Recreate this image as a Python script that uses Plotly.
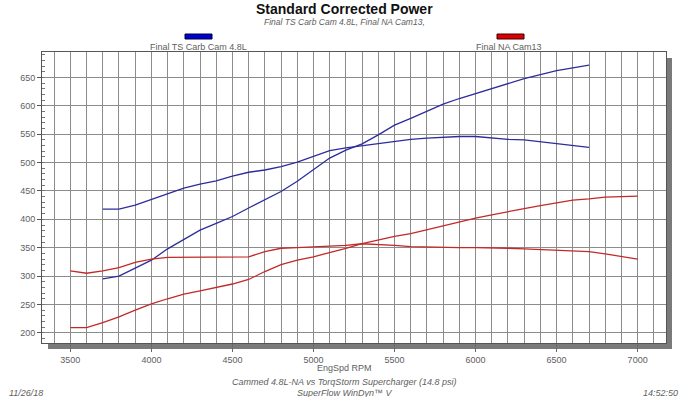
import plotly.graph_objects as go

# ---- data ----
rpm_na = list(range(3500, 7001, 100))
na_torque = [309, 305, 309, 315, 324, 330, 333, 333, 333, 333, 333, 334, 343, 349, 350, 351,
             352, 354, 357, 356, 354, 352, 351, 350, 350, 350, 350, 349, 348, 347, 346, 345,
             343, 339, 335, 330]
na_hp = [209, 209, 218, 228, 240, 251, 260, 268, 274, 280, 286, 294, 308, 320, 328, 334,
         341, 349, 357, 364, 370, 375, 382, 389, 396, 402, 408, 414, 419, 424, 429, 434,
         436, 439, 440, 441]

rpm_ts = list(range(3700, 6701, 100))
ts_torque = [418, 418, 425, 435, 446, 455, 462, 468, 476, 483, 487, 493, 501, 511, 521, 526,
             530, 534, 538, 541, 543, 545, 546, 546, 543, 541, 540, 537, 533, 530, 527]
ts_hp = [295, 300, 314, 328, 348, 364, 381, 393, 405, 420, 434, 449, 467, 487, 508, 522,
         533, 549, 566, 578, 591, 603, 613, 622, 631, 640, 648, 655, 662, 667, 672]

x_ticks = [3500, 4000, 4500, 5000, 5500, 6000, 6500, 7000]
y_ticks = [200, 250, 300, 350, 400, 450, 500, 550, 600, 650]

series_names = ["Final TS Carb Cam 4.8L", "Final NA Cam13"]
BLUE = "#2c2c9c"
RED = "#c42828"
FONT = "Liberation Sans, Arial, sans-serif"
GRAY_TXT = "#5e5e5e"

fig = go.Figure()
for y, name in [(ts_torque, series_names[0]), (ts_hp, series_names[0])]:
    fig.add_trace(go.Scatter(x=rpm_ts, y=y, mode="lines", name=name,
                             line=dict(color=BLUE, width=1.3), showlegend=False))
for y, name in [(na_torque, series_names[1]), (na_hp, series_names[1])]:
    fig.add_trace(go.Scatter(x=rpm_na, y=y, mode="lines", name=name,
                             line=dict(color=RED, width=1.3), showlegend=False))

W, H = 688, 397
L, R, T, B = 42, 22, 52, 54
pw, ph = W - L - R, H - T - B
sx, sy = 6 / pw, 6 / ph

shapes = [
    # drop shadow right and bottom
    dict(type="rect", xref="paper", yref="paper", x0=1, x1=1 + sx, y0=-sy, y1=1 - sy,
         fillcolor="#7a7a7a", line=dict(width=0), layer="below"),
    dict(type="rect", xref="paper", yref="paper", x0=sx, x1=1 + sx, y0=-sy, y1=0,
         fillcolor="#7a7a7a", line=dict(width=0), layer="below"),
    # legend swatches
    dict(type="rect", xref="paper", yref="paper",
         x0=(185 - L) / pw, x1=(212 - L) / pw, y0=(H - B - 39) / ph, y1=(H - B - 34) / ph,
         fillcolor="#0000cc", line=dict(color="#000040", width=1)),
    dict(type="rect", xref="paper", yref="paper",
         x0=(497 - L) / pw, x1=(524 - L) / pw, y0=(H - B - 39) / ph, y1=(H - B - 34) / ph,
         fillcolor="#dd0000", line=dict(color="#400000", width=1)),
]

def ann(text, x, y, size=9, color=GRAY_TXT, italic=False, bold=False, xanchor="center"):
    t = text
    if bold:
        t = "<b>" + t + "</b>"
    if italic:
        t = "<i>" + t + "</i>"
    return dict(text=t, xref="paper", yref="paper", x=(x - L) / pw, y=(H - B - y) / ph,
                xanchor=xanchor, yanchor="middle", showarrow=False,
                font=dict(family=FONT, size=size, color=color))

annotations = [
    ann("Standard Corrected Power", 344, 9, size=14, color="#111111", bold=True),
    ann("Final TS Carb Cam 4.8L, Final NA Cam13,", 344, 22, size=8.5, italic=True),
    ann(series_names[0], 198, 47, size=9),
    ann(series_names[1], 509, 47, size=9),
    ann("EngSpd RPM", 344, 368, size=9),
    ann("Cammed 4.8L-NA vs TorqStorm Supercharger (14.8 psi)", 344, 382, size=9, italic=True),
    ann("SuperFlow WinDyn\u2122 V", 344, 393, size=9, italic=True),
    ann("11/26/18", 7, 393, size=9, italic=True, xanchor="left"),
    ann("14:52:50", 680, 393, size=9, italic=True, xanchor="right"),
]

fig.update_layout(
    width=W, height=H,
    margin=dict(l=L, r=R, t=T, b=B),
    paper_bgcolor="white", plot_bgcolor="white",
    font=dict(family=FONT, size=9, color=GRAY_TXT),
    shapes=shapes, annotations=annotations,
    showlegend=False,
    xaxis=dict(range=[3325, 7175], tickvals=x_ticks, ticktext=[str(v) for v in x_ticks],
               showgrid=True, gridcolor="#8c8c8c", gridwidth=1,
               ticks="outside", ticklen=8, tickcolor="#6a6a6a",
               showline=True, linecolor="#555555", mirror=True, zeroline=False,
               minor=dict(dtick=100, tick0=3500, showgrid=True, gridcolor="#8c8c8c", gridwidth=1),
               tickfont=dict(size=9, color=GRAY_TXT)),
    yaxis=dict(range=[182, 695], tickvals=y_ticks, ticktext=[str(v) for v in y_ticks],
               showgrid=True, gridcolor="#8c8c8c", gridwidth=1,
               ticks="outside", ticklen=4, tickcolor="#555555",
               showline=True, linecolor="#555555", mirror=True, zeroline=False,
               minor=dict(dtick=10, tick0=200, ticks="inside", ticklen=3, tickcolor="#777777", showgrid=False),
               tickfont=dict(size=9, color=GRAY_TXT)),
)

fig.write_html("out.html", config={"displayModeBar": False},
               post_script="document.body.style.margin='0px';document.body.style.overflow='hidden';")
